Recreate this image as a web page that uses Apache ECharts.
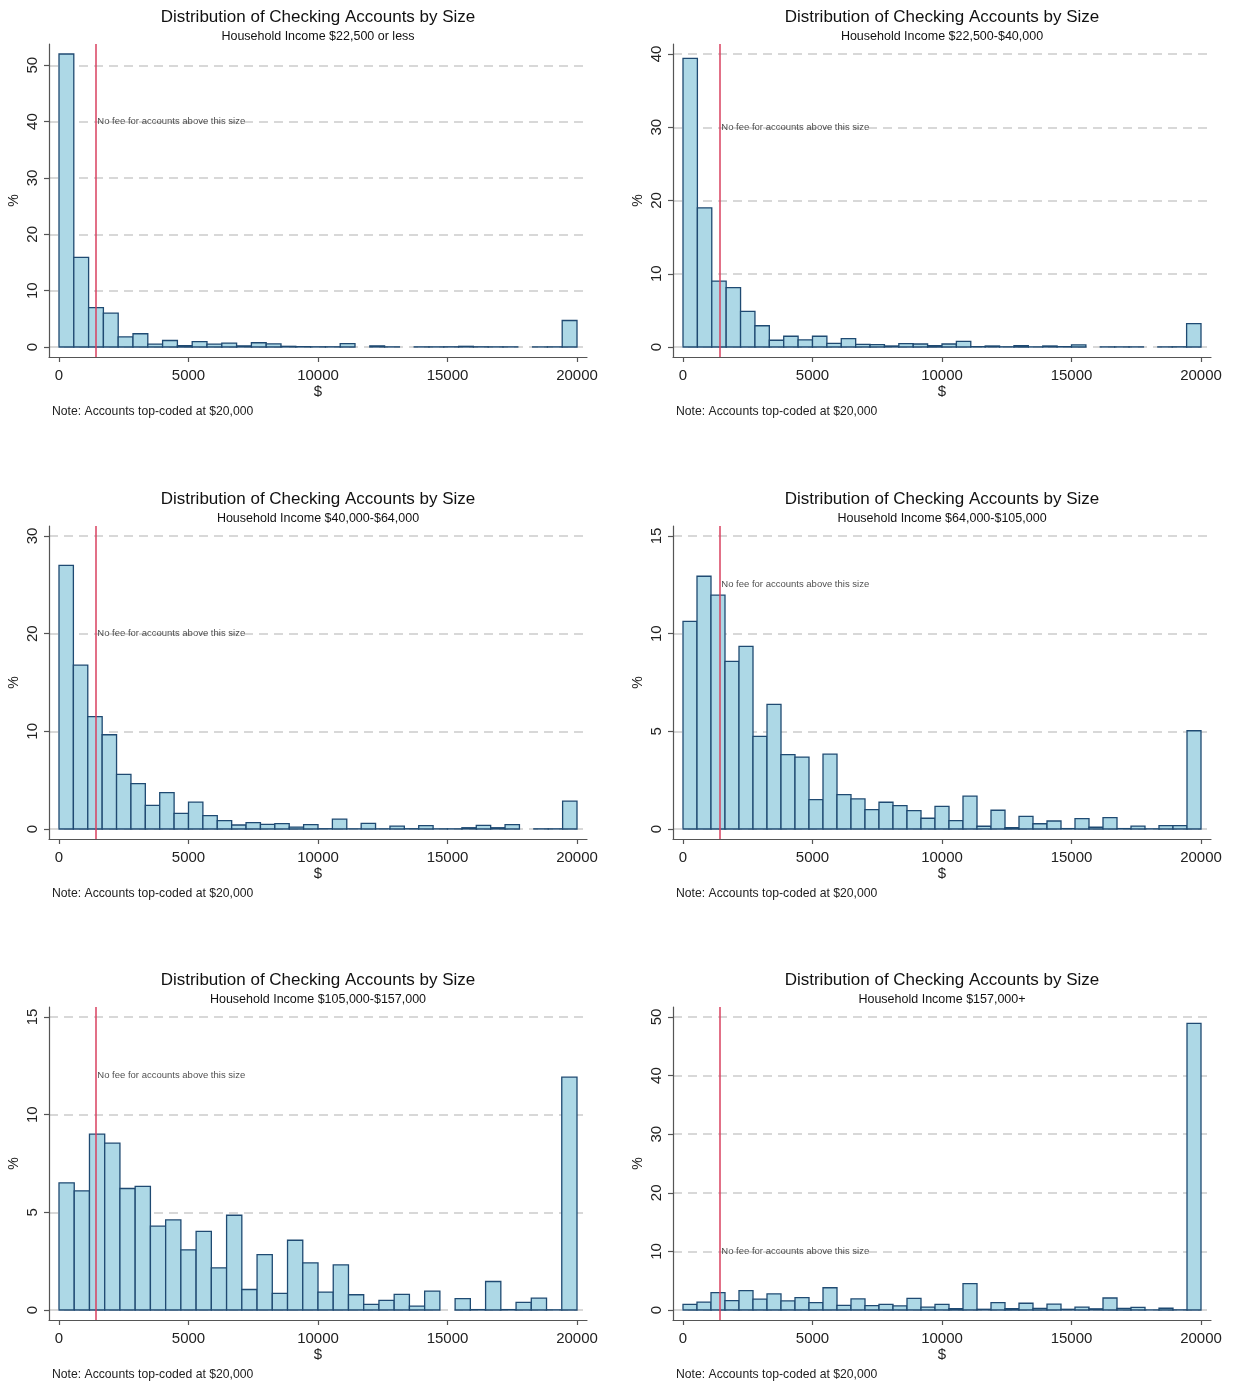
<!DOCTYPE html>
<html><head><meta charset="utf-8">
<script src="https://cdn.jsdelivr.net/npm/echarts@6/dist/echarts.min.js"></script>
<style>html,body{margin:0;padding:0;background:#fff}#c{width:1233px;height:1385px}</style>
</head><body><div id="c"></div>
<script>
// ---------- data ----------
const TITLE = 'Distribution of Checking Accounts by Size';
const subtitles = [
  'Household Income $22,500 or less',
  'Household Income $22,500-$40,000',
  'Household Income $40,000-$64,000',
  'Household Income $64,000-$105,000',
  'Household Income $105,000-$157,000',
  'Household Income $157,000+'
];
const NOTE = 'Note: Accounts top-coded at $20,000';
const FEE_TEXT = 'No fee for accounts above this size';
const FEE_THRESHOLD = 1400;
const X_MAX = 20000;
const xTicks = [0, 5000, 10000, 15000, 20000];
const yTicks1 = [0, 10, 20, 30, 40, 50];
const yTicks2 = [0, 10, 20, 30, 40];
const yTicks3 = [0, 10, 20, 30];
const yTicks4 = [0, 5, 10, 15];
const yTicks5 = [0, 5, 10, 15];
const yTicks6 = [0, 10, 20, 30, 40, 50];
const feeLabelY = [40, 30, 20, 12.5, 12, 10];
// percent of accounts in each equal-width bin from 0 to 20000 (null = empty bin)
const pct1 = [52.0, 15.9, 7.0, 6.0, 1.8, 2.35, 0.5, 1.15, 0.25, 0.95, 0.5, 0.7, 0.2, 0.75, 0.55, 0.12, 0.06, 0.04, 0.04, 0.6, null, 0.2, 0.03, null, 0.03, 0.03, 0.04, 0.12, 0.04, 0.03, 0.03, null, 0.02, 0.03, 4.7];
const pct2 = [39.4, 19.0, 9.0, 8.1, 4.85, 2.9, 0.92, 1.47, 0.97, 1.47, 0.5, 1.15, 0.36, 0.32, 0.14, 0.45, 0.41, 0.18, 0.41, 0.78, 0.05, 0.14, 0.03, 0.19, 0.02, 0.14, 0.05, 0.28, null, 0.02, 0.02, 0.02, null, 0.02, 0.03, 3.2];
const pct3 = [27.0, 16.77, 11.5, 9.65, 5.59, 4.64, 2.42, 3.73, 1.6, 2.75, 1.37, 0.85, 0.41, 0.65, 0.48, 0.55, 0.2, 0.44, 0.03, 1.02, 0.02, 0.58, 0.02, 0.3, 0.03, 0.34, 0.02, 0.02, 0.13, 0.37, 0.13, 0.44, null, 0.02, 0.02, 2.85];
const pct4 = [10.63, 12.94, 11.97, 8.58, 9.35, 4.74, 6.38, 3.81, 3.68, 1.5, 3.83, 1.76, 1.54, 0.99, 1.37, 1.2, 0.94, 0.55, 1.16, 0.43, 1.68, 0.14, 0.96, 0.07, 0.65, 0.27, 0.41, 0.02, 0.53, 0.09, 0.58, 0.02, 0.15, 0.01, 0.17, 0.17, 5.03];
const pct5 = [6.51, 6.1, 9.0, 8.54, 6.22, 6.33, 4.29, 4.61, 3.08, 4.03, 2.16, 4.85, 1.05, 2.84, 0.85, 3.57, 2.41, 0.92, 2.31, 0.78, 0.29, 0.49, 0.8, 0.2, 0.97, null, 0.58, 0.02, 1.46, 0.02, 0.39, 0.61, 0.01, 11.92];
const pct6 = [0.95, 1.35, 2.95, 1.6, 3.3, 1.85, 2.75, 1.55, 2.1, 1.25, 3.8, 0.8, 1.9, 0.75, 0.95, 0.7, 2.0, 0.5, 0.95, 0.25, 4.5, 0.12, 1.25, 0.25, 1.15, 0.27, 1.0, 0.12, 0.5, 0.2, 2.05, 0.27, 0.45, 0.02, 0.3, 0.03, 48.9];

// ---------- layout / style ----------
const FONT = '"Liberation Sans", Arial, sans-serif';
const COL_LEFT = [49, 673];
const ROW_TOP = [44, 526, 1007];
const PLOT_W = 538, PLOT_H = 313, PAD = 10;
const FILL = '#add8e6', EDGE = '#1f4a72', AXIS = '#555', RED = '#d9415f';

const panels = [
  {pct: pct1, ticks: yTicks1}, {pct: pct2, ticks: yTicks2},
  {pct: pct3, ticks: yTicks3}, {pct: pct4, ticks: yTicks4},
  {pct: pct5, ticks: yTicks5}, {pct: pct6, ticks: yTicks6}
];

const grids = [], xAxes = [], yAxes = [], series = [], titles = [], graphics = [];
const xPpu = (PLOT_W - 2 * PAD) / X_MAX;
const xPadV = PAD / xPpu;

panels.forEach((p, i) => {
  const col = i % 2, row = Math.floor(i / 2);
  const left = COL_LEFT[col], top = ROW_TOP[row];
  grids.push({left: left, top: top, width: PLOT_W, height: PLOT_H, containLabel: false});
  const n = p.pct.length, w = X_MAX / n;
  const dataMax = Math.max(p.ticks[p.ticks.length - 1], ...p.pct.filter(v => v != null));
  const yPpu = (PLOT_H - 2 * PAD) / dataMax;
  const yPadV = PAD / yPpu;
  xAxes.push({
    type: 'value', gridIndex: i, min: -xPadV, max: X_MAX + xPadV,
    axisLine: {show: true, onZero: false, lineStyle: {color: AXIS, width: 1.2}},
    axisTick: {show: true, length: 5, customValues: xTicks, lineStyle: {color: AXIS, width: 1.2}},
    axisLabel: {customValues: xTicks, fontSize: 15, color: '#222', fontFamily: FONT, margin: 11,
      formatter: v => String(v)},
    splitLine: {show: false},
    name: '$', nameLocation: 'middle', nameGap: 26,
    nameTextStyle: {fontSize: 15, color: '#222', fontFamily: FONT}
  });
  yAxes.push({
    type: 'value', gridIndex: i, min: -yPadV, max: dataMax + yPadV,
    axisLine: {show: true, onZero: false, lineStyle: {color: AXIS, width: 1.2}},
    axisTick: {show: true, length: 5, customValues: p.ticks, lineStyle: {color: AXIS, width: 1.2}},
    axisLabel: {customValues: p.ticks, rotate: 90, fontSize: 15, color: '#222', fontFamily: FONT, margin: 9,
      formatter: v => String(v)},
    splitLine: {show: true, lineStyle: {color: '#cccccc', width: 1.6, type: [9, 6]}},
    name: '%', nameLocation: 'middle', nameGap: 28,
    nameTextStyle: {fontSize: 14, color: '#222', fontFamily: FONT}
  });
  const bins = [];
  p.pct.forEach((v, k) => { if (v != null) bins.push([k * w, (k + 1) * w, v]); });
  series.push({
    type: 'custom', xAxisIndex: i, yAxisIndex: i, data: bins,
    encode: {x: [0, 1], y: 2},
    renderItem: (params, api) => {
      const a = api.coord([api.value(0), api.value(2)]);
      const b = api.coord([api.value(1), 0]);
      return {type: 'rect', shape: {x: a[0], y: a[1], width: b[0] - a[0], height: b[1] - a[1]},
        style: {fill: FILL, stroke: EDGE, lineWidth: 1.3}};
    },
    z: 2,
    markLine: {
      silent: true, symbol: 'none', z: 5,
      lineStyle: {color: RED, width: 1.5, type: 'solid'},
      label: {show: false},
      data: [{xAxis: FEE_THRESHOLD}]
    }
  });
  series.push({
    type: 'scatter', xAxisIndex: i, yAxisIndex: i, z: 6,
    data: [[FEE_THRESHOLD, feeLabelY[i]]], symbolSize: 0.1,
    itemStyle: {color: 'rgba(0,0,0,0)'},
    label: {show: true, position: 'right', distance: 2, formatter: FEE_TEXT,
      fontSize: 9.5, color: '#222', fontFamily: FONT}
  });
  titles.push({
    text: TITLE, subtext: subtitles[i],
    left: left + PLOT_W / 2, textAlign: 'center', top: top - 35, padding: 0, itemGap: 4,
    textStyle: {fontSize: 17, fontWeight: 'normal', color: '#111', fontFamily: FONT},
    subtextStyle: {fontSize: 12.5, color: '#111', fontFamily: FONT}
  });
  graphics.push({
    type: 'text', left: left + 3, top: top + PLOT_H + 49,
    style: {text: NOTE, fontSize: 12.2, fill: '#222', fontFamily: FONT}
  });
});

const chart = echarts.init(document.getElementById('c'), null, {renderer: 'canvas'});
chart.setOption({
  backgroundColor: '#fff', animation: false,
  title: titles, grid: grids, xAxis: xAxes, yAxis: yAxes, series: series, graphic: graphics
});
</script></body></html>
